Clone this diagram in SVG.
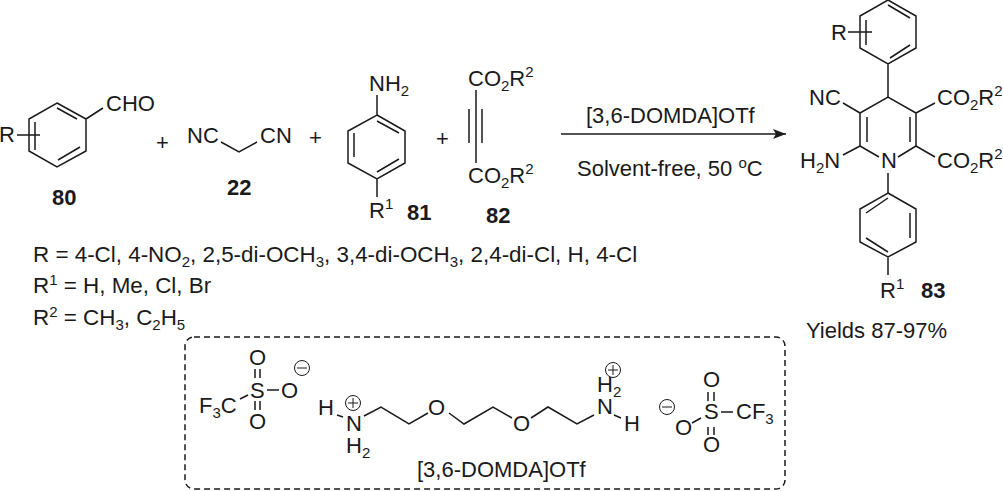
<svg xmlns="http://www.w3.org/2000/svg" width="1003" height="491" viewBox="0 0 1003 491">
<style>
text{font-family:"Liberation Sans",Arial,sans-serif;font-size:22px;fill:#1a1a1a}
.b{font-weight:bold;font-size:22px}
.s{font-size:15px}
.l{font-size:22.4px}
.bond{fill:none;stroke:#1a1a1a;stroke-width:1.5;stroke-linejoin:miter}
.thin{stroke-width:1}
</style>
<defs>
<marker id="ah" markerUnits="userSpaceOnUse" markerWidth="14" markerHeight="10" refX="13" refY="5" orient="auto"><path d="M0 0L13 5L0 10L3 5Z" fill="#1a1a1a"/></marker>
</defs>
<rect width="1003" height="491" fill="#fff"/>
<g id="c80">
<path class="bond" d="M57 103L86 119V151L57 167L29 151V119ZM57 108L77 119M80 147L58 160M35 122V150M86 119L103 108M17 135H40"/>
<text x="106" y="111">CHO</text><text x="-1" y="142">R</text><text class="b" x="52" y="205">80</text>
</g>
<text id="plus1" x="156" y="150">+</text>
<g id="c22">
<path class="bond" d="M221 142L239 152L257 142"/>
<text x="187" y="143">NC</text><text x="260" y="143">CN</text><text class="b" x="227" y="195">22</text>
</g>
<text id="plus2" x="309" y="145">+</text>
<g id="c81">
<path class="bond" d="M377 115L405 131V163L377 179L348 163V131ZM377 121L399 133M399 159L377 172M354 133V157M377 95V115M377 179V197"/>
<text x="369" y="91">NH<tspan class="s" dy="5">2</tspan></text>
<text x="369" y="218">R<tspan class="s" dy="-9">1</tspan></text>
<text class="b" x="407" y="220">81</text>
</g>
<text id="plus3" x="436" y="146">+</text>
<g id="c82">
<path class="bond" d="M476 90V163M469 109V143M482 109V143"/>
<text x="468" y="86">CO<tspan class="s" dy="5">2</tspan><tspan dy="-5">R</tspan><tspan class="s" dy="-9">2</tspan></text>
<text x="468" y="183">CO<tspan class="s" dy="5">2</tspan><tspan dy="-5">R</tspan><tspan class="s" dy="-9">2</tspan></text>
<text class="b" x="486" y="223">82</text>
</g>
<g id="connectors">
<path class="bond" d="M561 134H786" marker-end="url(#ah)"/>
</g>
<g id="conditions">
<text x="586" y="123">[3,6-DOMDA]OTf</text>
<text x="577" y="176">Solvent-free, 50 <tspan class="s" dy="-8">o</tspan><tspan dy="8">C</tspan></text>
</g>
<g id="c83">
<path class="bond" d="M888 0L916 16V48L888 64L860 48V16ZM888 5L910 18M910 45L890 58M866 20V45M848 32H872M888 64V97"/>
<path class="bond" d="M898 157L916 146V113L888 97L860 113V146L879 157M867 117V142M910 117V142M860 113L843 103M916 113L935 103M860 146L843 155M916 146L935 157M888 173V193"/>
<path class="bond" d="M888 193L916 209V242L888 257L860 242V209ZM888 198L866 213M910 213V238M866 238L888 252M888 257V275"/>
<text x="831" y="40">R</text><text x="809" y="105">NC</text>
<text x="937" y="105">CO<tspan class="s" dy="5">2</tspan><tspan dy="-5">R</tspan><tspan class="s" dy="-9">2</tspan></text>
<text x="800" y="168">H<tspan class="s" dy="5">2</tspan><tspan dy="-5">N</tspan></text>
<text x="881" y="168">N</text>
<text x="937" y="168">CO<tspan class="s" dy="5">2</tspan><tspan dy="-5">R</tspan><tspan class="s" dy="-9">2</tspan></text>
<text x="880" y="298">R<tspan class="s" dy="-9">1</tspan></text>
<text class="b" x="921" y="298">83</text>
<text x="806" y="338">Yields 87-97%</text>
</g>
<g id="legend">
<text class="l" x="33" y="262">R = 4-Cl, 4-NO<tspan class="s" dy="5">2</tspan><tspan dy="-5">, 2,5-di-OCH</tspan><tspan class="s" dy="5">3</tspan><tspan dy="-5">, 3,4-di-OCH</tspan><tspan class="s" dy="5">3</tspan><tspan dy="-5">, 2,4-di-Cl, H, 4-Cl</tspan></text>
<text class="l" x="33" y="293">R<tspan class="s" dy="-8">1</tspan><tspan dy="8"> = H, Me, Cl, Br</tspan></text>
<text class="l" x="33" y="325">R<tspan class="s" dy="-8">2</tspan><tspan dy="8"> = CH</tspan><tspan class="s" dy="5">3</tspan><tspan dy="-5">, C</tspan><tspan class="s" dy="5">2</tspan><tspan dy="-5">H</tspan><tspan class="s" dy="5">5</tspan></text>
</g>
<g id="catalyst">
<rect class="bond" x="185" y="337" width="600" height="152" rx="9" stroke-dasharray="6 4"/>
<g id="triflate-left">
<path class="bond" d="M255 369V378M260 369V378M255 401V410M260 401V410M267 390H279M240 399L248 395"/>
<circle class="bond thin" cx="302" cy="368" r="7.5"/><path class="bond thin" d="M297 368H307"/>
<text x="249" y="365">O</text><text x="249" y="429">O</text><text x="250" y="398">S</text><text x="281" y="398">O</text>
<text x="199" y="413">F<tspan class="s" dy="5">3</tspan><tspan dy="-5">C</tspan></text>
</g>
<g id="dication">
<path class="bond" d="M337 415L343 417M364 416L381 407L409 424L428 413M449 413L464 424L493 407L512 418M531 418L548 407L577 424L594 415M614 415L621 418"/>
<circle class="bond thin" cx="353" cy="403" r="7.5"/><path class="bond thin" d="M348 403H358M353 398V408"/>
<circle class="bond thin" cx="613" cy="370" r="7.5"/><path class="bond thin" d="M608 370H618M613 365V375"/>
<text x="318" y="415">H</text><text x="346" y="431">N<tspan x="346" dy="22">H</tspan><tspan class="s" dy="5">2</tspan></text>
<text x="428" y="415">O</text><text x="513" y="431">O</text>
<text x="597" y="392">H<tspan class="s" dy="5">2</tspan><tspan x="597" dy="17">N</tspan></text><text x="624" y="431">H</text>
</g>
<g id="triflate-right">
<path class="bond" d="M708 392V401M714 392V401M708 427V435M714 427V435M721 412H733M692 423L701 418"/>
<circle class="bond thin" cx="667" cy="407" r="7.5"/><path class="bond thin" d="M662 407H672"/>
<text x="703" y="387">O</text><text x="703" y="452">O</text><text x="704" y="419">S</text><text x="675" y="435">O</text>
<text x="736" y="419">CF<tspan class="s" dy="5">3</tspan></text>
</g>
<text x="417" y="477">[3,6-DOMDA]OTf</text>
</g>
</svg>
